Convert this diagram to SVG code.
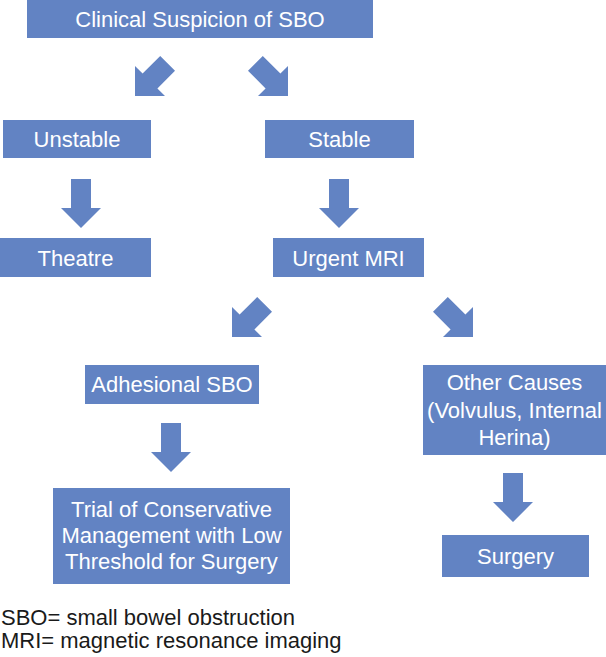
<svg xmlns="http://www.w3.org/2000/svg" xmlns:xlink="http://www.w3.org/1999/xlink" width="606" height="657" viewBox="0 0 606 657">
<style>
.box{fill:#6283C3;}
.t{font-family:"Liberation Sans",Arial,sans-serif;font-size:22px;fill:#ffffff;text-anchor:middle;}
.leg{font-family:"Liberation Sans",Arial,sans-serif;font-size:22px;fill:#1a1a1a;}
.arr{fill:#6283C3;}
</style>
<defs>
<polygon id="diag" points="0,0 0,-30 7.6,-22.4 25.2,-40 40,-25.2 22.4,-7.6 30,0"/>
<polygon id="down" points="-10,0 10,0 10,29 20,29 0,49 -20,29 -10,29"/>
</defs>
<rect width="606" height="657" fill="#ffffff"/>
<g id="connectors" class="arr">
<use xlink:href="#diag" transform="translate(135,96)"/>
<use xlink:href="#diag" transform="translate(288,96) scale(-1,1)"/>
<use xlink:href="#down" transform="translate(81,179)"/>
<use xlink:href="#down" transform="translate(339,179)"/>
<use xlink:href="#diag" transform="translate(232,337)"/>
<use xlink:href="#diag" transform="translate(473,337) scale(-1,1)"/>
<use xlink:href="#down" transform="translate(171,423)"/>
<use xlink:href="#down" transform="translate(513,473)"/>
</g>
<g id="n-clinical"><rect class="box" x="27" y="0" width="346" height="38"/><text class="t" x="200" y="27">Clinical Suspicion of SBO</text></g>
<g id="n-unstable"><rect class="box" x="3" y="120" width="148" height="38"/><text class="t" x="77" y="147">Unstable</text></g>
<g id="n-stable"><rect class="box" x="265" y="120" width="149" height="38"/><text class="t" x="339.5" y="147">Stable</text></g>
<g id="n-theatre"><rect class="box" x="0" y="238" width="151" height="39"/><text class="t" x="75.5" y="266">Theatre</text></g>
<g id="n-mri"><rect class="box" x="273" y="238" width="151" height="39"/><text class="t" x="348.5" y="266">Urgent MRI</text></g>
<g id="n-adhesional"><rect class="box" x="85" y="365" width="174" height="39"/><text class="t" x="172" y="392">Adhesional SBO</text></g>
<g id="n-other"><rect class="box" x="423" y="365" width="183" height="90"/><text class="t" x="514.5" y="390">Other Causes</text><text class="t" x="514.5" y="418">(Volvulus, Internal</text><text class="t" x="514.5" y="445">Herina)</text></g>
<g id="n-trial"><rect class="box" x="53" y="488" width="237" height="96"/><text class="t" x="171.5" y="517">Trial of Conservative</text><text class="t" x="171.5" y="543">Management with Low</text><text class="t" x="171.5" y="569">Threshold for Surgery</text></g>
<g id="n-surgery"><rect class="box" x="442" y="535" width="147" height="42"/><text class="t" x="515.5" y="564">Surgery</text></g>
<g id="legend"><text class="leg" x="1" y="625">SBO= small bowel obstruction</text><text class="leg" x="1" y="648">MRI= magnetic resonance imaging</text></g>
</svg>
